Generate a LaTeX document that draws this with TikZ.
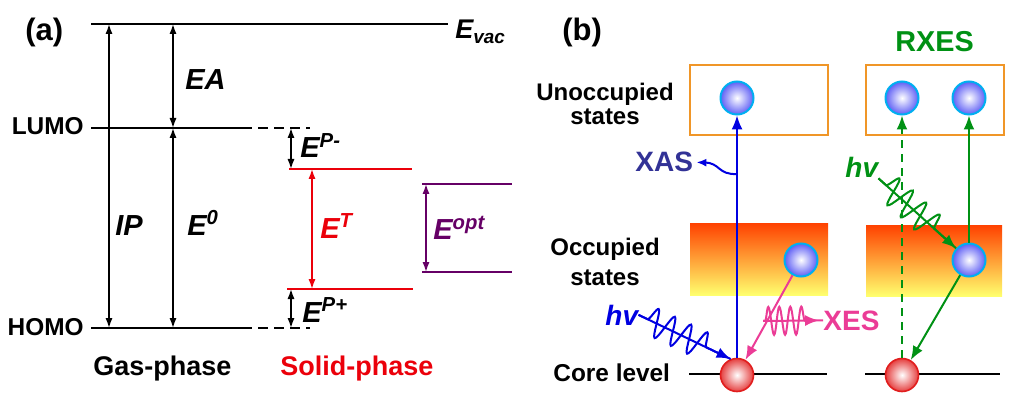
\documentclass[tikz,border=0pt]{standalone}
\usepackage{fontspec}
\setmainfont{Liberation Sans}
\usepackage{xcolor}
\usepackage{tikz}
\usetikzlibrary{arrows.meta,decorations.pathmorphing,calc}

\definecolor{solidred}{RGB}{235,0,10}
\definecolor{optpurple}{RGB}{102,0,102}
\definecolor{boxorange}{RGB}{240,150,40}
\definecolor{xasblue}{RGB}{0,0,225}
\definecolor{xasnavy}{RGB}{50,50,150}
\definecolor{xespink}{RGB}{235,60,150}
\definecolor{rxesgreen}{RGB}{0,145,20}
\definecolor{ballcyan}{RGB}{0,175,240}
\definecolor{ballblue}{RGB}{95,95,245}
\definecolor{corered}{RGB}{225,30,30}
\definecolor{bandtop}{RGB}{255,65,0}
\definecolor{bandbot}{RGB}{255,255,110}

\begin{document}
\begin{tikzpicture}[x=0.5pt,y=-0.5pt,
    txt/.style={inner sep=0pt,font=\bfseries\fontsize{12.2}{13}\selectfont},
    elab/.style={inner sep=0pt,font=\bfseries\itshape\fontsize{14.5}{16}\selectfont},
    level/.style={line width=1pt},
    dashlevel/.style={line width=1pt,dash pattern=on 5pt off 3pt},
    gap/.style={line width=0.8pt,{Latex[length=5pt,width=3.6pt]}-{Latex[length=5pt,width=3.6pt]}},
    ball/.style={circle,minimum size=16.5pt,inner sep=0pt,draw=ballcyan,line width=1pt,inner color=white,outer color=ballblue},
    core/.style={circle,minimum size=16.5pt,inner sep=0pt,draw=corered,line width=0.8pt,inner color=white,outer color=corered!85},
    tip/.style={-{Latex[length=7pt,width=5.5pt]}},
    wiggle/.style={decorate,decoration={snake,amplitude=7pt,segment length=9pt,pre length=5pt,post length=10pt}}
  ]
  \useasboundingbox (0,0) rectangle (1021,406);

  % Draw the gas-phase levels
  \coordinate (vac) at (91,24);
  \coordinate (lumo) at (91,128);
  \coordinate (homo) at (91,328);
  \draw[level] (vac) -- ++(357,0);
  \draw[level] (lumo) -- ++(151,0);
  \draw[dashlevel] ($(lumo)+(151,0)$) -- ++(68,0);
  \draw[level] (homo) -- ++(151,0);
  \draw[dashlevel] ($(homo)+(151,0)$) -- ++(68,0);

  % Gaps of the free molecule
  \draw[gap] ($(vac)+(18,0)$) -- ($(homo)+(18,0)$);
  \draw[gap] ($(vac)+(82,0)$) -- ($(lumo)+(82,0)$);
  \draw[gap] ($(lumo)+(82,0)$) -- ($(homo)+(82,0)$);

  % Draw the solid-phase levels
  \coordinate (solT) at (289,169);
  \coordinate (solB) at (287,289);
  \coordinate (optT) at (422,184);
  \coordinate (optB) at (422,272);
  \draw[level,solidred] (solT) -- ++(123,0);
  \draw[level,solidred] (solB) -- ++(126,0);
  \draw[level,optpurple] (optT) -- ++(90,0);
  \draw[level,optpurple] (optB) -- ++(90,0);
  \draw[gap] (291,128) -- ($(solT)+(2,0)$);
  \draw[gap] ($(solB)+(4,0)$) -- (291,328);
  \draw[gap,solidred] ($(solT)+(23,0)$) -- ($(solB)+(25,0)$);
  \draw[gap,optpurple] ($(optT)+(4,0)$) -- ($(optB)+(4,0)$);

  % Labels of panel (a)
  \node[txt,font=\bfseries\fontsize{15.5}{17}\selectfont,anchor=base west] (panela) at (25,41) {(a)};
  \node[txt,anchor=base east] (lumolab) at (84,135) {LUMO};
  \node[txt,anchor=base east] (homolab) at (84,335) {HOMO};
  \node[elab,font=\bfseries\itshape\fontsize{13.5}{15}\selectfont,anchor=base west] (evac) at (455,39) {E\textsubscript{vac}};
  \node[elab,anchor=base west] (ealab) at (185,90) {EA};
  \node[elab,anchor=base west] (iplab) at (115,235) {IP};
  \node[elab,anchor=base west] (e0lab) at (187,235) {E\textsuperscript{0}};
  \node[elab,anchor=base west] (epmlab) at (300,158) {E\textsuperscript{P-}};
  \node[elab,anchor=base west] (epplab) at (302,322) {E\textsuperscript{P+}};
  \node[elab,solidred,anchor=base west] (etlab) at (320,238) {E\textsuperscript{T}};
  \node[elab,optpurple,anchor=base west] (eoptlab) at (433,240) {E\textsuperscript{opt}};
  \node[txt,font=\bfseries\fontsize{13.5}{15}\selectfont,anchor=base west] (gas) at (93,375) {Gas-phase};
  \node[txt,font=\bfseries\fontsize{13.5}{15}\selectfont,solidred,anchor=base west] (solid) at (280,375) {Solid-phase};

  % Draw the state boxes of panel (b)
  \draw[boxorange,line width=1pt] (690,65) rectangle (828,135);
  \draw[boxorange,line width=1pt] (866,65) rectangle (1004,135);
  \shade[top color=bandtop,bottom color=bandbot] (690,223) rectangle (828,295);
  \shade[top color=bandtop,bottom color=bandbot] (866,225) rectangle (1002,296);
  \draw[level] (689,374) -- (827,374);
  \draw[level] (865,374) -- (1000,374);

  % Labels of panel (b)
  \node[txt,font=\bfseries\fontsize{15.5}{17}\selectfont,anchor=base west] (panelb) at (562,41) {(b)};
  \node[txt,font=\bfseries\fontsize{14.4}{16}\selectfont,rxesgreen,anchor=base west] (rxes) at (895,52) {RXES};
  \node[txt,font=\bfseries\fontsize{12}{12}\selectfont,align=center] (unocc) at (605,104) {Unoccupied\\states};
  \node[txt,font=\bfseries\fontsize{12}{15}\selectfont,align=center] (occ) at (605,262) {Occupied\\states};
  \node[txt,anchor=base west] (corelab) at (553,381) {Core level};

  % Electrons and core holes
  \node[ball] (u1) at (737,98) {};
  \node[ball] (u2) at (902,98) {};
  \node[ball] (u3) at (969,98) {};
  \node[ball] (o1) at (801,260) {};
  \node[ball] (o2) at (969,260) {};
  \node[core] (c1) at (737,375) {};
  \node[core] (c2) at (902,375) {};

  % XAS and XES transitions
  \draw[tip,xasblue,line width=0.8pt] (c1) -- (u1);
  \node[txt,font=\bfseries\fontsize{14}{16}\selectfont,xasnavy,anchor=base west] (xaslab) at (635,172) {XAS};
  \coordinate (xasfoot) at (737,174);
  \draw[xasblue,line width=1pt,-{Latex[length=5pt,width=4pt]}] (xasfoot) .. controls (718,175) and (720,163) .. ($(xaslab.east)+(3,0)$);
  \node[txt,font=\bfseries\itshape\fontsize{14}{16}\selectfont,xasblue,anchor=base west] (hv1) at (605,325) {hv};
  \draw[tip,xasblue,line width=1pt] (hv1.east) -- (c1.112);
  \draw[xasblue,line width=1pt,wiggle] (hv1.east) -- (c1.112);
  \draw[tip,xespink,line width=1pt] (o1) -- (c1);
  \node[txt,font=\bfseries\fontsize{14}{16}\selectfont,xespink,anchor=base west] (xeslab) at (823,330) {XES};
  \coordinate (xesw) at (763,321);
  \draw[tip,xespink,line width=1pt,shorten >=2pt] (xesw) -- (xeslab.west);
  \draw[xespink,line width=1pt,decorate,decoration={snake,amplitude=7pt,segment length=5.5pt,pre length=1pt,post length=9pt}] (xesw) -- (xeslab.west);

  % RXES transitions
  \draw[tip,rxesgreen,line width=1pt,dash pattern=on 4pt off 3pt] (c2) -- (u2);
  \draw[tip,rxesgreen,line width=1pt] (o2) -- (u3);
  \draw[tip,rxesgreen,line width=1pt] (o2) -- (c2);
  \node[txt,font=\bfseries\itshape\fontsize{14}{16}\selectfont,rxesgreen,anchor=base west] (hv2) at (845,178) {hv};
  \draw[tip,rxesgreen,line width=1pt] (hv2.south east) -- (o2);
  \draw[rxesgreen,line width=1pt,wiggle] (hv2.south east) -- (o2);
\end{tikzpicture}
\end{document}
